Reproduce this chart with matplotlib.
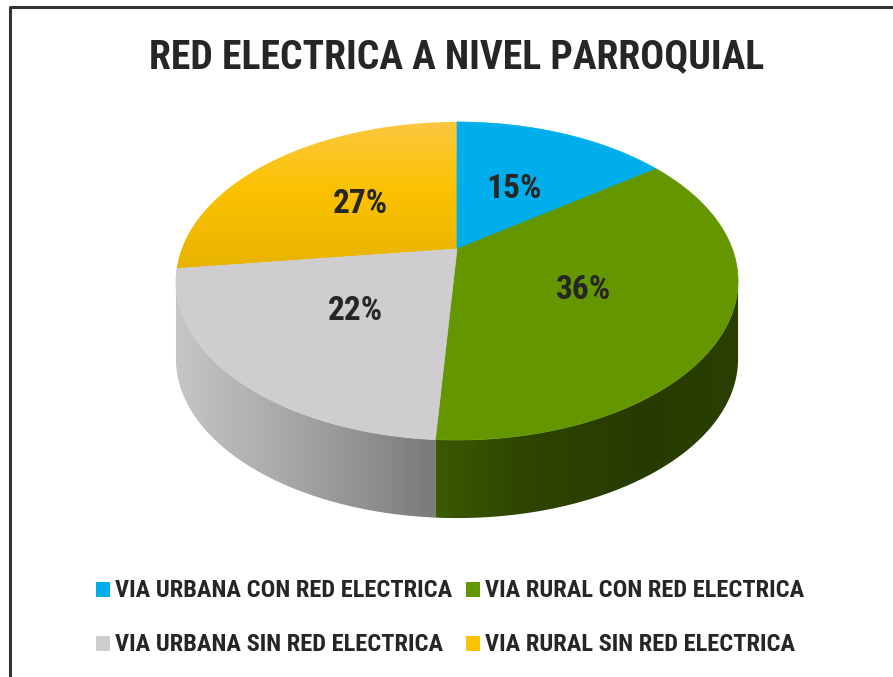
import numpy as np
import matplotlib
matplotlib.use("Agg")
import matplotlib.pyplot as plt
from matplotlib import font_manager
from matplotlib.patches import Polygon, Rectangle
from matplotlib.colors import to_rgb

titulo = "RED ELECTRICA A NIVEL PARROQUIAL"
categorias = ["VIA URBANA CON RED ELECTRICA", "VIA RURAL CON RED ELECTRICA",
              "VIA URBANA SIN RED ELECTRICA", "VIA RURAL SIN RED ELECTRICA"]
porcentajes = [15, 36, 22, 27]
colores = ["#00aeeb", "#649600", "#cfcdcf", "#fbc200"]

# primera familia estrecha que exista, si no Liberation Sans
instaladas = {f.name for f in font_manager.fontManager.ttflist}
FUENTE = "DejaVu Sans"
for cand in ["Liberation Sans Narrow", "Arial Narrow", "Roboto Condensed",
             "Open Sans Condensed", "Liberation Sans", "Arial"]:
    if cand in instaladas:
        FUENTE = cand
        break
FAMILIA = [FUENTE, "DejaVu Sans"]

# geometria del pastel en pixeles (perspectiva simple)
CX, CY = 457, 249
A, B, K = 275.3, 152.6, 0.2013
PROF = 78


def punto(theta, r=1.0):
    u = r * np.sin(theta)
    v = r * np.cos(theta)
    w = 1 + K * v
    return CX + A * u / w, CY - B * v / w


def relleno_gradiente(ax, poly, paradas, horizontal=True):
    # paradas: lista de (posicion en pixeles, color)
    xs, ys = poly[:, 0], poly[:, 1]
    x0, x1, y0, y1 = xs.min() - 2, xs.max() + 2, ys.min() - 2, ys.max() + 2
    pos = np.array([p for p, _ in paradas])
    rgb = np.array([to_rgb(c) for _, c in paradas])
    if horizontal:
        eje = np.linspace(x0, x1, 300)
    else:
        eje = np.linspace(y0, y1, 300)
    fila = np.column_stack([np.interp(eje, pos, rgb[:, k]) for k in range(3)])
    img = fila[None, :, :] if horizontal else fila[:, None, :]
    im = ax.imshow(img, extent=(x0, x1, y1, y0), aspect="auto", zorder=2,
                   interpolation="bilinear")
    p = Polygon(poly, closed=True, facecolor="none", edgecolor="none")
    ax.add_patch(p)
    im.set_clip_path(p)


def ajustar(texto, ancho, renderer):
    bb = texto.get_window_extent(renderer)
    texto.set_fontsize(texto.get_fontsize() * ancho / bb.width)
    return texto.get_fontsize()


fig = plt.figure(figsize=(8.93, 6.77), dpi=100)
ax = fig.add_axes([0, 0, 1, 1])
ax.set_xlim(0, 893)
ax.set_ylim(677, 0)
ax.axis("off")
renderer = fig.canvas.get_renderer()

# marco del grafico
ax.plot([10, 10, 900], [690, 7, 7], color="#333333", lw=2.2, zorder=1)

limites_ang = np.cumsum([0] + porcentajes) / 100 * 2 * np.pi
t_izq = np.pi / 2 + np.arcsin(K)
t_der = 3 * np.pi / 2 - np.arcsin(K)

# paredes laterales visibles (sombreado horizontal)
paredes = {
    1: [(425, "#3d5c00"), (520, "#2e4600"), (640, "#273b00"), (740, "#2a3f00")],
    2: [(176, "#c6c6c6"), (300, "#a4a4a4"), (436, "#7a7a7a")],
}
for i, paradas in paredes.items():
    a0 = max(limites_ang[i], t_izq)
    a1 = min(limites_ang[i + 1], t_der)
    if a1 <= a0:
        continue
    t = np.linspace(a0, a1, 160)
    x, y = punto(t)
    poly = np.column_stack([np.r_[x, x[::-1]], np.r_[y, y[::-1] + PROF]])
    relleno_gradiente(ax, poly, paradas)

# caras superiores
for i, col in enumerate(colores):
    t = np.linspace(limites_ang[i], limites_ang[i + 1], 160)
    x, y = punto(t)
    poly = np.column_stack([np.r_[CX, x], np.r_[CY, y]])
    if i == 3:
        relleno_gradiente(ax, poly, [(122, "#fbc840"), (190, "#fcc200"),
                                     (270, "#e7b300")], horizontal=False)
    else:
        ax.add_patch(Polygon(poly, closed=True, facecolor=col,
                             edgecolor=col, lw=0.5, zorder=3))

# etiquetas de porcentaje
etiquetas = []
for i, val in enumerate(porcentajes):
    medio = (limites_ang[i] + limites_ang[i + 1]) / 2
    lx, ly = punto(medio, 0.5)
    etiquetas.append(ax.text(lx, ly + 2, f"{val}%", ha="center", va="center",
                             fontsize=23, fontweight="bold", family=FAMILIA,
                             color="#262626", zorder=5))
tam = ajustar(etiquetas[1], 55, renderer)
for e in etiquetas:
    e.set_fontsize(tam)

t_titulo = ax.text(457, 57, titulo, ha="center", va="center", fontsize=30,
                   fontweight="bold", family=FAMILIA, color="#262626", zorder=5)
ajustar(t_titulo, 615, renderer)

# leyenda
pos_leyenda = [(96, 589.5), (466, 589.5), (96, 643.5), (466, 643.5)]
textos_ley = []
for (lx, ly), cat, col in zip(pos_leyenda, categorias, colores):
    ax.add_patch(Rectangle((lx, ly - 7.5), 14, 15, facecolor=col,
                           edgecolor="none", zorder=5))
    textos_ley.append(ax.text(lx + 19, ly + 1, cat, ha="left", va="center",
                              fontsize=17, fontweight="bold", family=FAMILIA,
                              color="#262626", zorder=5))
tam = ajustar(textos_ley[0], 338, renderer)
for e in textos_ley:
    e.set_fontsize(tam)

fig.savefig("out.png", dpi=100, facecolor="white")
